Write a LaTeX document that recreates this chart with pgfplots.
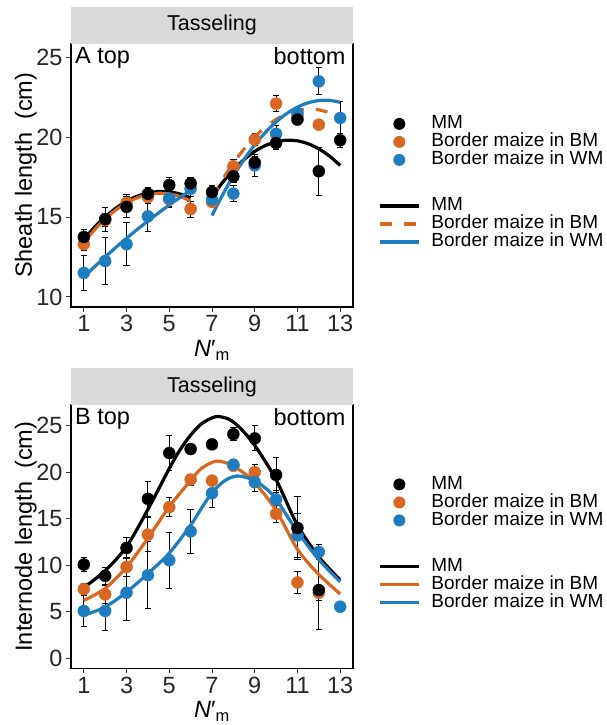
\documentclass[border=0pt]{standalone}
\usepackage{fontspec}
\setmainfont{Liberation Sans}
\usepackage{pgfplots}
\usepackage{pgfplotstable}
\pgfplotsset{compat=1.18}

\definecolor{mmcol}{RGB}{0,0,0}
\definecolor{bmcol}{RGB}{216,104,33}
\definecolor{wmcol}{RGB}{30,125,192}
\definecolor{stripgray}{RGB}{217,217,217}

% ---- A: sheath length (mean, s.e.) ----
\pgfplotstableread{
x y e
1 13.75 0.5
2 14.87 0.75
3 15.63 0.65
4 16.45 0.4
5 17.0 0.5
6 17.1 0.4
7 16.56 0.4
8 17.54 0.4
9 18.4 0.4
10 19.63 0.4
11 21.09 0.3
12 17.86 1.5
13 19.8 0.45
}\topMM
\pgfplotstableread{
x y e
1 13.3 0.4
2 14.8 0.4
3 15.88 0.5
4 16.25 0.4
5 16.1 0.5
6 15.5 0.5
7 15.94 0.3
8 18.17 0.4
9 19.84 0.4
10 22.09 0.5
11 21.3 0.3
12 20.77 0.2
}\topBM
\pgfplotstableread{
x y e
1 11.5 1.1
2 12.25 1.5
3 13.3 1.35
4 15.04 0.94
5 16.15 0.5
6 16.77 0.5
7 16.1 0.4
8 16.46 0.5
9 18.23 0.7
10 20.2 0.5
11 21.5 0.3
12 23.48 0.85
13 21.19 1.0
}\topWM

% ---- B: internode length (mean, s.e.) ----
\pgfplotstableread{
x y e
1 10.07 0.8
2 8.85 0.9
3 11.85 1.1
4 17.14 1.9
5 22.07 1.9
6 22.5 0.4
7 23.0 0.2
8 24.1 0.7
9 23.64 1.35
10 19.71 1.9
11 14.0 3.4
12 7.32 4.2
}\botMM
\pgfplotstableread{
x y e
1 7.42 0.6
2 6.85 1.0
3 9.81 1.0
4 13.28 1.8
5 16.24 1.0
6 19.21 0.6
7 19.1 0.5
8 20.7 0.4
9 20.0 0.8
10 15.53 0.9
11 8.14 1.2
12 7.03 0.8
}\botBM
\pgfplotstableread{
x y e
1 5.07 1.7
2 5.07 2.1
3 7.03 3.0
4 8.92 3.6
5 10.53 3.0
6 13.64 2.4
7 17.74 1.5
8 20.82 0.4
9 18.93 1.0
10 17.07 1.0
11 13.2 2.4
12 11.42 0.8
13 5.53 0.5
}\botWM

\pgfplotsset{
  panel/.style={
    scale only axis, width=282pt, height=263.4pt, anchor=south west,
    xmin=0.4, xmax=13.6, xtick={1,3,...,13},
    axis line style={line width=1.2pt, black},
    tick align=outside, xtick pos=left, ytick pos=left,
    major tick length=5pt,
    every tick/.style={black!80, line width=1pt},
    tick label style={font=\fontsize{23.5}{28}\selectfont, text=black!85},
    label style={font=\fontsize{23.5}{28}\selectfont},
    /pgf/number format/assume math mode=true,
    xlabel={\textit{N}′\textsubscript{m}},
    xlabel style={at={(axis description cs:0.5,-0.188)}, anchor=base},
    ylabel style={at={(axis description cs:-0.16,0.5)}, anchor=center, rotate=0},
    legend cell align=left,
    legend style={draw=none, fill=none, inner sep=0pt,
      font=\fontsize{19}{22}\selectfont,
      nodes={inner sep=0pt, text height=14pt, text depth=4pt},
      /tikz/every odd column/.append style={column sep=11pt}},
  },
  pts/.style={only marks, mark=*, mark size=6pt, forget plot},
  eb/.style={draw=none, mark=none, forget plot,
    error bars/.cd, y dir=both, y explicit,
    error bar style={draw=black, solid, line width=1pt},
    error mark options={rotate=90, mark size=3.2pt, draw=black, solid, line width=1pt}},
  fit/.style={smooth, no marks, line width=3.2pt, forget plot},
  ptimg/.style={legend image code/.code={\path[draw=none,fill=none] (0pt,0pt) -- (39pt,0pt);\fill[draw=none,#1] (19.5pt,0pt) circle[radius=6pt];}},
  lnimg/.style={legend image code/.code={\draw[#1, line width=3.2pt] (0pt,0pt) -- (39pt,0pt);}},
  gapimg/.style={legend image code/.code={\path[draw=none,fill=none] (0pt,-14pt) rectangle (39pt,14pt);}},
}

\begin{document}
\begin{tikzpicture}
\path[use as bounding box] (0,0) rectangle (606pt,725pt);

% ---------------- panel A ----------------
\begin{axis}[panel, name=top, at={(71pt,418pt)},
  ymin=9.375, ymax=25.84, ytick={10,15,20,25},
  ylabel={Sheath length~~(cm)},
  legend style={at={(axis description cs:1.0887,0.73)}, anchor=north west}]
\addlegendimage{ptimg=mmcol}\addlegendentry{MM}
\addlegendimage{ptimg=bmcol}\addlegendentry{Border maize in BM}
\addlegendimage{ptimg=wmcol}\addlegendentry{Border maize in WM}
\addlegendimage{gapimg}\addlegendentry{}
\addlegendimage{lnimg=mmcol}\addlegendentry{MM}
\addlegendimage{lnimg={bmcol, dash pattern=on 12pt off 12pt}}\addlegendentry{Border maize in BM}
\addlegendimage{lnimg=wmcol}\addlegendentry{Border maize in WM}

\addplot[pts, bmcol] table[x=x,y=y] {\topBM};
\addplot[pts, wmcol] table[x=x,y=y] {\topWM};
\addplot[pts, mmcol] table[x=x,y=y] {\topMM};
\addplot[eb] table[x=x,y=y,y error=e] {\topBM};
\addplot[eb] table[x=x,y=y,y error=e] {\topWM};
\addplot[eb] table[x=x,y=y,y error=e] {\topMM};

% quadratic fits, upper (1-6) and lower (7-13) internodes
\addplot[fit, mmcol] coordinates {(1,13.60) (1.5,14.36) (2,15.01) (2.5,15.55) (3,15.98) (3.5,16.30) (4,16.50) (4.5,16.59) (5,16.57) (5.5,16.44) (6,16.20)};
\addplot[fit, mmcol] coordinates {(7,16.25) (7.5,17.17) (8,17.95) (8.5,18.59) (9,19.10) (9.5,19.47) (10,19.70) (10.5,19.80) (11,19.76) (11.5,19.58) (12,19.26) (12.5,18.81) (13,18.22)};
\addplot[fit, bmcol] coordinates {(1,13.40) (1.5,14.20) (2,14.88) (2.5,15.44) (3,15.88) (3.5,16.20) (4,16.40) (4.5,16.48) (5,16.44) (5.5,16.28) (6,16.00)};
\addplot[fit, bmcol, dash pattern=on 12pt off 12pt] coordinates {(7,16.20) (7.5,17.35) (8,18.37) (8.5,19.25) (9,20.00) (9.5,20.62) (10,21.10) (10.5,21.45) (11,21.67) (11.5,21.75) (12,21.70) (12.5,21.51) (13,21.20)};
\addplot[fit, wmcol] coordinates {(1,11.25) (1.5,11.89) (2,12.50) (2.5,13.10) (3,13.67) (3.5,14.22) (4,14.75) (4.5,15.26) (5,15.75) (5.5,16.22) (6,16.67)};
\addplot[fit, wmcol] coordinates {(7,15.10) (7.5,16.39) (8,17.56) (8.5,18.60) (9,19.51) (9.5,20.29) (10,20.94) (10.5,21.47) (11,21.87) (11.5,22.14) (12,22.28) (12.5,22.29) (13,22.17)};

\node[anchor=north west, inner sep=0pt, font=\fontsize{23.5}{28}\selectfont] at (rel axis cs:0.014,0.987) {A top};
\node[anchor=north east, inner sep=0pt, font=\fontsize{23.5}{28}\selectfont] at (rel axis cs:0.974,0.987) {bottom};
\end{axis}
\fill[stripgray] (top.north west) rectangle ([yshift=36.6pt]top.north east);
\node[font=\fontsize{21.5}{26}\selectfont] at ([yshift=18.3pt]top.north) {Tasseling};

% ---------------- panel B ----------------
\begin{axis}[panel, name=bot, at={(71pt,56.7pt)},
  ymin=-1.1, ymax=27.25, ytick={0,5,...,25},
  ylabel={Internode length~~(cm)},
  legend style={at={(axis description cs:1.0887,0.733)}, anchor=north west}]
\addlegendimage{ptimg=mmcol}\addlegendentry{MM}
\addlegendimage{ptimg=bmcol}\addlegendentry{Border maize in BM}
\addlegendimage{ptimg=wmcol}\addlegendentry{Border maize in WM}
\addlegendimage{gapimg}\addlegendentry{}
\addlegendimage{lnimg=mmcol}\addlegendentry{MM}
\addlegendimage{lnimg=bmcol}\addlegendentry{Border maize in BM}
\addlegendimage{lnimg=wmcol}\addlegendentry{Border maize in WM}

\addplot[pts, bmcol] table[x=x,y=y] {\botBM};
\addplot[pts, wmcol] table[x=x,y=y] {\botWM};
\addplot[pts, mmcol] table[x=x,y=y] {\botMM};
\addplot[eb] table[x=x,y=y,y error=e] {\botBM};
\addplot[eb] table[x=x,y=y,y error=e] {\botWM};
\addplot[eb] table[x=x,y=y,y error=e] {\botMM};

% bell-shaped fits along the stem
\addplot[fit, mmcol] coordinates {(1,7.6) (2,9.4) (3,12.0) (4,16.0) (5,20.4) (5.5,22.4) (6,24.0) (6.5,25.2) (7,25.85) (7.3,26.0) (7.8,25.7) (8.3,24.8) (9,22.9) (10,19.2) (11,14.3) (12,10.9) (13,8.4)};
\addplot[fit, bmcol] coordinates {(1,6.2) (2,7.5) (3,9.8) (4,12.9) (5,16.3) (6,19.1) (6.5,20.4) (7.2,21.2) (7.9,20.8) (8.5,19.9) (9,18.9) (10,15.9) (11,11.7) (12,9.0) (13,6.9)};
\addplot[fit, wmcol] coordinates {(1,4.6) (2,5.5) (3,7.1) (4,9.1) (5,11.3) (6,14.3) (6.5,16.1) (7,17.8) (7.6,19.1) (8.2,19.6) (8.9,19.2) (9.5,18.3) (10,17.1) (11,13.6) (12,10.6) (13,8.2)};

\node[anchor=north west, inner sep=0pt, font=\fontsize{23.5}{28}\selectfont] at (rel axis cs:0.014,0.987) {B top};
\node[anchor=north east, inner sep=0pt, font=\fontsize{23.5}{28}\selectfont] at (rel axis cs:0.974,0.987) {bottom};
\end{axis}
\fill[stripgray] (bot.north west) rectangle ([yshift=36.6pt]bot.north east);
\node[font=\fontsize{21.5}{26}\selectfont] at ([yshift=18.3pt]bot.north) {Tasseling};
\end{tikzpicture}
\end{document}
